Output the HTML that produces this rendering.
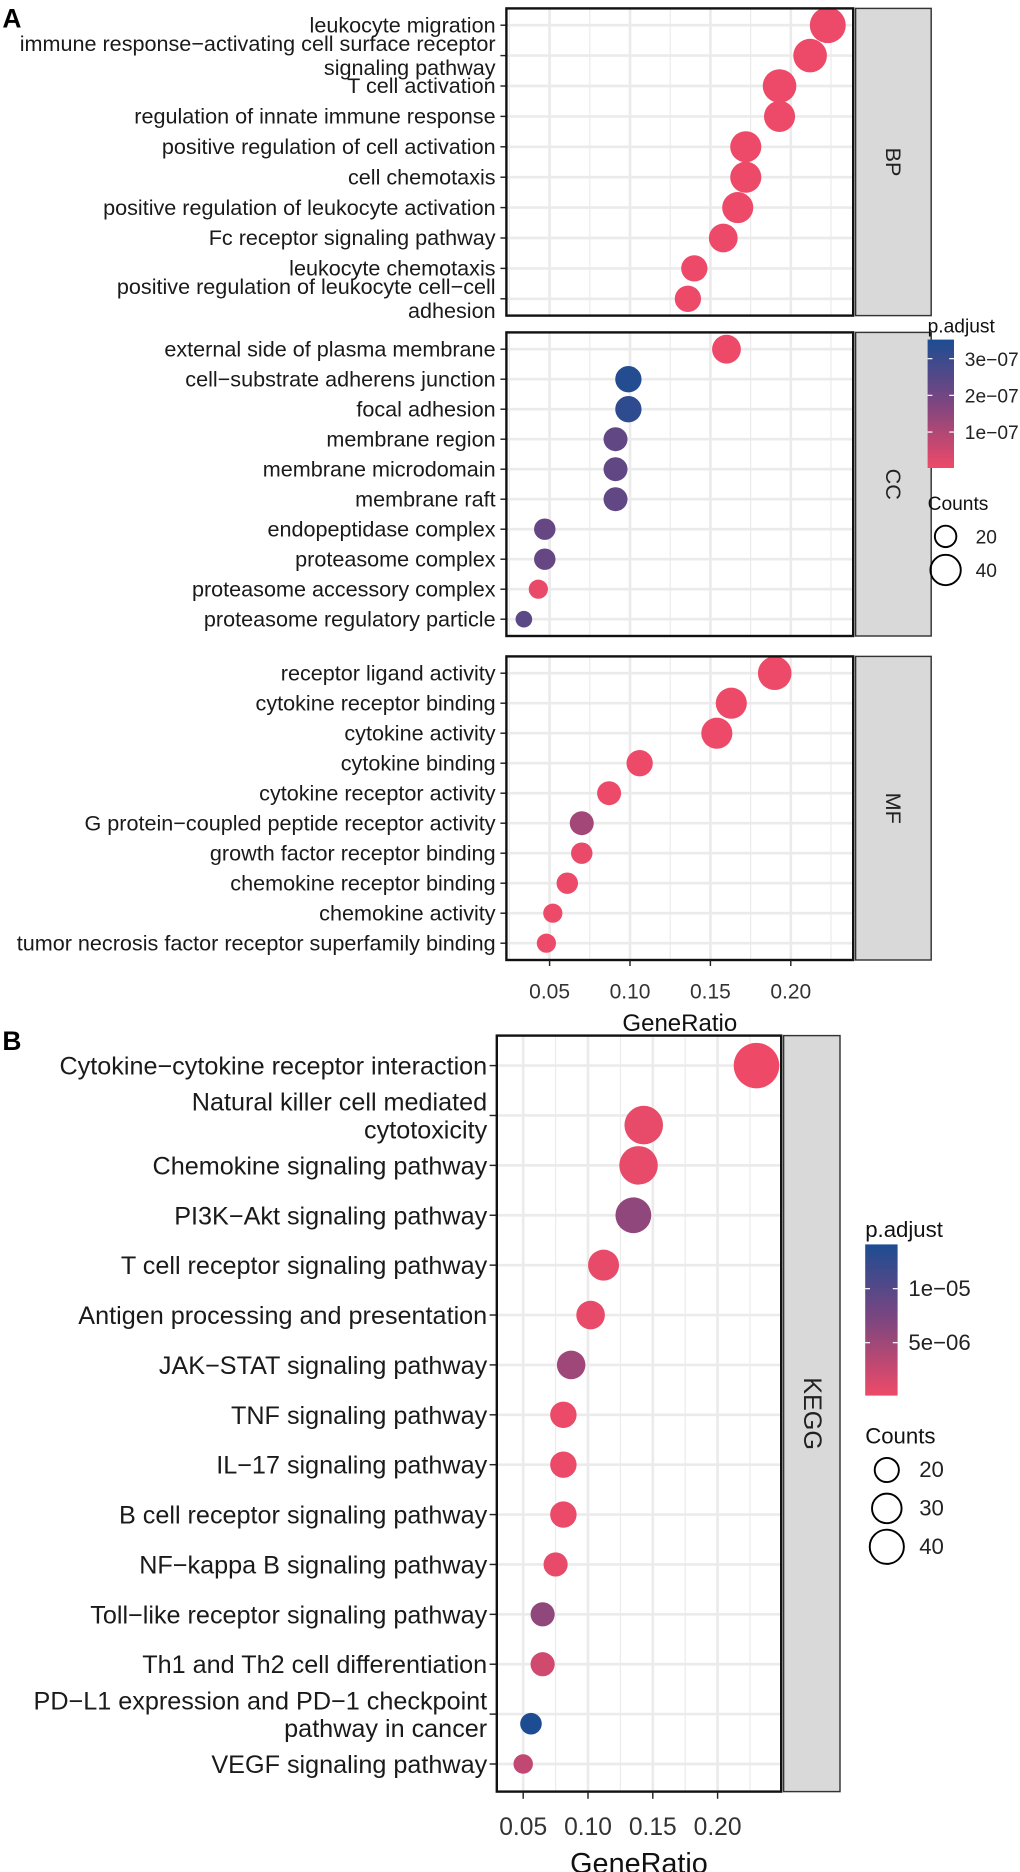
<!DOCTYPE html>
<html><head><meta charset="utf-8"><style>
html,body{margin:0;padding:0;background:#fff;}
svg{display:block;font-family:"Liberation Sans",Arial,sans-serif;}
</style></head><body>
<svg id="chart" width="1020" height="1872" viewBox="0 0 850 1560" preserveAspectRatio="none" xmlns="http://www.w3.org/2000/svg"></svg>
<script>
// ---- Panel A data ----
const bpTerms=["leukocyte migration","immune response\u2212activating cell surface receptor|signaling pathway","T cell activation","regulation of innate immune response","positive regulation of cell activation","cell chemotaxis","positive regulation of leukocyte activation","Fc receptor signaling pathway","leukocyte chemotaxis","positive regulation of leukocyte cell\u2212cell|adhesion"];
const bpRatio=[0.223,0.212,0.193,0.193,0.172,0.172,0.167,0.158,0.140,0.136];
const bpCount=[56,49,49,42,42,42,42,36,30,30];
const bpP=[0.05e-7,0.05e-7,0.05e-7,0.05e-7,0.05e-7,0.05e-7,0.05e-7,0.05e-7,0.05e-7,0.05e-7];
const ccTerms=["external side of plasma membrane","cell\u2212substrate adherens junction","focal adhesion","membrane region","membrane microdomain","membrane raft","endopeptidase complex","proteasome complex","proteasome accessory complex","proteasome regulatory particle"];
const ccRatio=[0.160,0.099,0.099,0.091,0.091,0.091,0.047,0.047,0.043,0.034];
const ccCount=[36,30,30,25,25,25,20,20,16,12];
const ccP=[0.05e-7,3.4e-7,3.2e-7,2.3e-7,2.3e-7,2.3e-7,2.2e-7,2.2e-7,0.1e-7,2.4e-7];
const mfTerms=["receptor ligand activity","cytokine receptor binding","cytokine activity","cytokine binding","cytokine receptor activity","G protein\u2212coupled peptide receptor activity","growth factor receptor binding","chemokine receptor binding","chemokine activity","tumor necrosis factor receptor superfamily binding"];
const mfRatio=[0.190,0.163,0.154,0.106,0.087,0.070,0.070,0.061,0.052,0.048];
const mfCount=[49,42,42,30,25,25,20,20,16,16];
const mfP=[0.05e-7,0.05e-7,0.05e-7,0.05e-7,0.05e-7,1.2e-7,0.1e-7,0.05e-7,0.05e-7,0.05e-7];
const aTicks=[0.05,0.10,0.15,0.20];
const aTickLabels=["0.05","0.10","0.15","0.20"];
const aLegP=[3e-7,2e-7,1e-7];
const aLegPLabels=["3e\u221207","2e\u221207","1e\u221207"];
const aLegCounts=[20,40];
// ---- Panel B data ----
const kTerms=["Cytokine\u2212cytokine receptor interaction","Natural killer cell mediated|cytotoxicity","Chemokine signaling pathway","PI3K\u2212Akt signaling pathway","T cell receptor signaling pathway","Antigen processing and presentation","JAK\u2212STAT signaling pathway","TNF signaling pathway","IL\u221217 signaling pathway","B cell receptor signaling pathway","NF\u2212kappa B signaling pathway","Toll\u2212like receptor signaling pathway","Th1 and Th2 cell differentiation","PD\u2212L1 expression and PD\u22121 checkpoint|pathway in cancer","VEGF signaling pathway"];
const kRatio=[0.230,0.143,0.139,0.135,0.112,0.102,0.087,0.081,0.081,0.081,0.075,0.065,0.065,0.056,0.050];
const kCount=[71,51,51,44,33,28,28,24,24,24,20,20,20,16,13];
const kP=[0.1e-6,0.5e-6,0.5e-6,6e-6,0.5e-6,0.5e-6,5e-6,0.3e-6,0.3e-6,0.3e-6,0.5e-6,6e-6,2e-6,1.4e-5,3e-6];
const bTicks=[0.05,0.10,0.15,0.20];
const bTickLabels=["0.05","0.10","0.15","0.20"];
const bLegP=[1e-5,5e-6];
const bLegPLabels=["1e\u221205","5e\u221206"];
const bLegCounts=[20,30,40];

const NS="http://www.w3.org/2000/svg";
const svg=document.getElementById('chart');
function mk(tag,attrs,parent){const e=document.createElementNS(NS,tag);for(const k in attrs)e.setAttribute(k,attrs[k]);(parent||svg).appendChild(e);return e;}
function hex(c){return [parseInt(c.slice(1,3),16),parseInt(c.slice(3,5),16),parseInt(c.slice(5,7),16)];}
const stops=[hex("#EE4A68"),hex("#7E4680"),hex("#1D4C92")];
function colorAt(t){t=Math.max(0,Math.min(1,t));const s=t*2;const i=Math.min(1,Math.floor(s));const f=s-i;const a=stops[i],b=stops[i+1];return "rgb("+a.map((v,k)=>Math.round(v+(b[k]-v)*f)).join(",")+")";}

// ---- Panel A ----
const A={x0:422,x1:711,sx0:713,sx1:776,xs:v=>458+(v-0.05)*1340};
const aPmin=0.02e-7,aPmax=3.52e-7;
function panelA(name,strip,terms,ratio,count,pv,top,bot){
  const g=mk('g',{});
  
  
  const n=terms.length;const rowY=i=>top+14+i*((bot-top-28)/(n-1));
  for(let v=0.025;v<0.23;v+=0.05){const x=A.xs(v);if(x>A.x0&&x<A.x1)mk('line',{x1:x,x2:x,y1:top,y2:bot,stroke:'#EBEBEB','stroke-width':1},g);}
  aTicks.forEach(v=>{const x=A.xs(v);mk('line',{x1:x,x2:x,y1:top,y2:bot,stroke:'#EBEBEB','stroke-width':2.2},g);});
  terms.forEach((t,i)=>{mk('line',{x1:A.x0,x2:A.x1,y1:rowY(i),y2:rowY(i),stroke:'#EBEBEB','stroke-width':2.2},g);});
  terms.forEach((t,i)=>{
    const y=rowY(i);
    mk('line',{x1:A.x0-5,x2:A.x0,y1:y,y2:y,stroke:'#222','stroke-width':1.2},g);
    const parts=t.split('|');
    const lab=mk('text',{x:A.x0-9,'text-anchor':'end','font-size':18,fill:'#1a1a1a'},g);
    
    
    if(parts.length===1){lab.setAttribute('y',y+6);lab.textContent=t;}
    else{parts.forEach((p,k)=>{const ts=mk('tspan',{x:A.x0-9,y:y-4+k*20},lab);ts.textContent=p;});}
    const c=mk('circle',{cx:A.xs(ratio[i]),cy:y,r:2.0*Math.sqrt(count[i]),fill:colorAt((pv[i]-aPmin)/(aPmax-aPmin))},g);
    
    
  });
  mk('rect',{x:A.x0,y:top,width:A.x1-A.x0,height:bot-top,fill:'none',stroke:'#111','stroke-width':2},g);
  const s=mk('rect',{x:A.sx0,y:top,width:A.sx1-A.sx0,height:bot-top,fill:'#D9D9D9',stroke:'#333','stroke-width':1.2},g);
  
  
  const cx=(A.sx0+A.sx1)/2,cy=(top+bot)/2;
  const st=mk('text',{x:cx,y:cy,'text-anchor':'middle','dominant-baseline':'central','font-size':18,fill:'#222',transform:`rotate(90 ${cx} ${cy})`},g);
  
  
  st.textContent=strip;
}
panelA('bp','BP',bpTerms,bpRatio,bpCount,bpP,7,263);
panelA('cc','CC',ccTerms,ccRatio,ccCount,ccP,277,530);
panelA('mf','MF',mfTerms,mfRatio,mfCount,mfP,547,800);
aTicks.forEach((v,i)=>{const x=A.xs(v);mk('line',{x1:x,x2:x,y1:800,y2:805,stroke:'#222','stroke-width':1.2});const t=mk('text',{x:x,y:832,'text-anchor':'middle','font-size':17.5,fill:'#333'});t.textContent=aTickLabels[i];});
let tt=mk('text',{x:(A.x0+A.x1)/2,y:859,'text-anchor':'middle','font-size':20,fill:'#111'});tt.textContent='GeneRatio';
tt=mk('text',{x:2,y:23,'font-size':22,'font-weight':'bold',fill:'#000'});tt.textContent='A';
tt=mk('text',{x:2,y:875,'font-size':22,'font-weight':'bold',fill:'#000'});tt.textContent='B';

function legend(name,x,top,h,w,pmin,pmax,ticks,tickLabels,counts,rk,countTop,spacing,fs,cxOff,lxOff){
  const g=mk('g',{});
  
  
  const id='grad'+name;
  const defs=mk('defs',{},g);const lg=mk('linearGradient',{id:id,x1:0,y1:1,x2:0,y2:0},defs);
  for(let k=0;k<=10;k++)mk('stop',{offset:k/10,'stop-color':colorAt(k/10)},lg);
  let t=mk('text',{x:x,y:top-6,'font-size':fs,fill:'#111'},g);t.textContent='p.adjust';
  mk('rect',{x:x,y:top,width:w,height:h,fill:`url(#${id})`},g);
  ticks.forEach((v,i)=>{const y=top+h-(v-pmin)/(pmax-pmin)*h;mk('line',{x1:x,x2:x+4,y1:y,y2:y,stroke:'#fff','stroke-width':1},g);mk('line',{x1:x+w-4,x2:x+w,y1:y,y2:y,stroke:'#fff','stroke-width':1},g);const l=mk('text',{x:x+w+9,y:y+6,'font-size':fs,fill:'#222'},g);l.textContent=tickLabels[i];});
  t=mk('text',{x:x,y:countTop,'font-size':fs,fill:'#111'},g);t.textContent='Counts';
  let cy=countTop+22;
  counts.forEach((c,i)=>{const r=rk*Math.sqrt(c);if(i>0)cy+=spacing;mk('circle',{cx:x+cxOff,cy:cy,r:r,fill:'none',stroke:'#000','stroke-width':1.6},g);const l=mk('text',{x:x+lxOff,y:cy+6,'font-size':fs,fill:'#222'},g);l.textContent=String(c);});
}
legend('legend-a',773,283,107,22,0.02e-7,3.52e-7,aLegP,aLegPLabels,aLegCounts,2.0,425,28,16,15,40);

// ---- Panel B ----
const B={x0:414,x1:651,sx0:653,sx1:700,top:863,bot:1493,xs:v=>436+(v-0.05)*1080};
const bPmin=0.1e-6,bPmax=1.41e-5;
{
  const g=mk('g',{});
  
  
  const n=kTerms.length;const rowY=i=>888+i*((1470-888)/(n-1));
  for(let v=0.025;v<0.25;v+=0.05){const x=B.xs(v);if(x>B.x0&&x<B.x1)mk('line',{x1:x,x2:x,y1:B.top,y2:B.bot,stroke:'#EBEBEB','stroke-width':1},g);}
  bTicks.forEach(v=>{const x=B.xs(v);mk('line',{x1:x,x2:x,y1:B.top,y2:B.bot,stroke:'#EBEBEB','stroke-width':2.2},g);});
  kTerms.forEach((t,i)=>mk('line',{x1:B.x0,x2:B.x1,y1:rowY(i),y2:rowY(i),stroke:'#EBEBEB','stroke-width':2.2},g));
  kTerms.forEach((t,i)=>{
    const y=rowY(i);
    mk('line',{x1:B.x0-6,x2:B.x0,y1:y,y2:y,stroke:'#222','stroke-width':1.2},g);
    const parts=t.split('|');
    const lab=mk('text',{x:B.x0-8,'text-anchor':'end','font-size':21,fill:'#1a1a1a'},g);
    
    
    if(parts.length===1){lab.setAttribute('y',y+7.5);lab.textContent=t;}
    else{parts.forEach((p,k)=>{const ts=mk('tspan',{x:B.x0-8,y:y-4+k*23},lab);ts.textContent=p;});}
    const c=mk('circle',{cx:B.xs(kRatio[i]),cy:(parts.length>1?y+8:y),r:2.25*Math.sqrt(kCount[i]),fill:colorAt((kP[i]-bPmin)/(bPmax-bPmin))},g);
    
    
  });
  mk('rect',{x:B.x0,y:B.top,width:B.x1-B.x0,height:B.bot-B.top,fill:'none',stroke:'#111','stroke-width':2},g);
  const s=mk('rect',{x:B.sx0,y:B.top,width:B.sx1-B.sx0,height:B.bot-B.top,fill:'#D9D9D9',stroke:'#333','stroke-width':1.2},g);
  
  
  const cx=(B.sx0+B.sx1)/2,cy=(B.top+B.bot)/2;
  const st=mk('text',{x:cx,y:cy,'text-anchor':'middle','dominant-baseline':'central','font-size':21,fill:'#222',transform:`rotate(90 ${cx} ${cy})`},g);
  
  
  st.textContent='KEGG';
}
bTicks.forEach((v,i)=>{const x=B.xs(v);mk('line',{x1:x,x2:x,y1:B.bot,y2:B.bot+6,stroke:'#222','stroke-width':1.2});const t=mk('text',{x:x,y:1529,'text-anchor':'middle','font-size':20.5,fill:'#333'});t.textContent=bTickLabels[i];});
tt=mk('text',{x:(B.x0+B.x1)/2,y:1561,'text-anchor':'middle','font-size':24,fill:'#111'});tt.textContent='GeneRatio';
legend('legend-b',721,1037,126,27,bPmin,bPmax,bLegP,bLegPLabels,bLegCounts,2.25,1203,32,18.5,18,45);
</script>
</body></html>
